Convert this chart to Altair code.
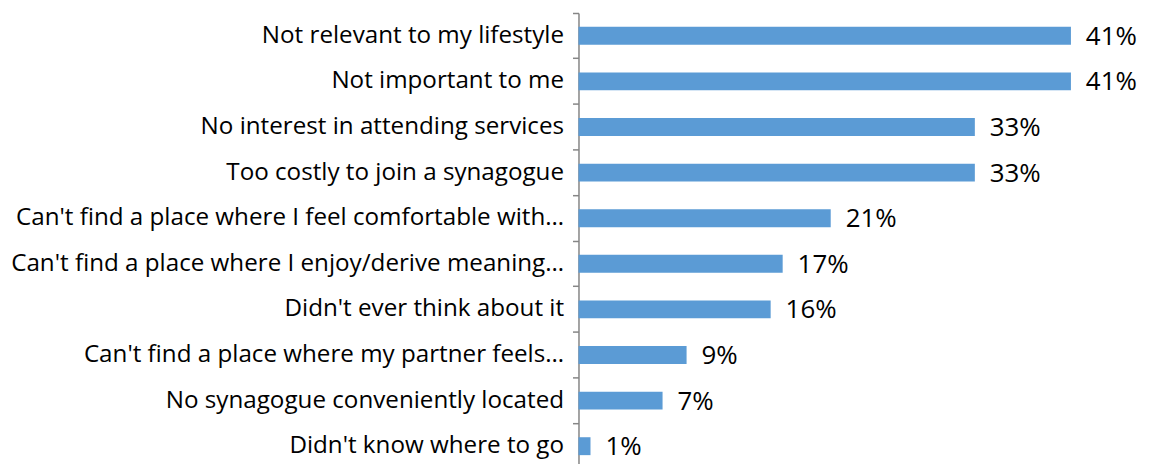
import altair as alt
import pandas as pd

categories = [
    "Not relevant to my lifestyle",
    "Not important to me",
    "No interest in attending services",
    "Too costly to join a synagogue",
    "Can't find a place where I feel comfortable with…",
    "Can't find a place where I enjoy/derive meaning…",
    "Didn't ever think about it",
    "Can't find a place where my partner feels…",
    "No synagogue conveniently located",
    "Didn't know where to go",
]
values = [41, 41, 33, 33, 21, 17, 16, 9, 7, 1]
value_labels = [f"{v}%" for v in values]

df = pd.DataFrame({"reason": categories, "pct": values, "label": value_labels})

FONT = "Open Sans"

y = alt.Y(
    "reason:N",
    sort=categories,
    title=None,
    scale=alt.Scale(paddingInner=0, paddingOuter=0),
    axis=alt.Axis(
        labelFont=FONT,
        labelFontSize=24.3,
        labelColor="#000000",
        labelLimit=800,
        labelPadding=9,
        domainColor="#868686",
        domainWidth=1.5,
        tickColor="#868686",
        tickSize=6,
        tickWidth=1.5,
        bandPosition=0,
        grid=False,
    ),
)
x = alt.X(
    "pct:Q",
    title=None,
    axis=None,
    scale=alt.Scale(domain=[0, 47]),
)

bars = alt.Chart(df).mark_bar(size=18, color="#5B9BD5").encode(x=x, y=y)
text = alt.Chart(df).mark_text(
    align="left", baseline="middle", dx=15, dy=1, font=FONT, fontSize=26, color="#000000"
).encode(x=x, y=y, text="label:N")

chart = (
    alt.layer(bars, text, view=alt.ViewBackground(stroke=None, strokeWidth=0))
    .properties(width=567, height=458, padding={"left": 2, "top": 3, "right": 0, "bottom": 0})
    .configure_view(strokeWidth=0, stroke=None)
    .configure(background="white")
)

chart.save("out.html", embed_options={"renderer": "svg", "actions": False})
